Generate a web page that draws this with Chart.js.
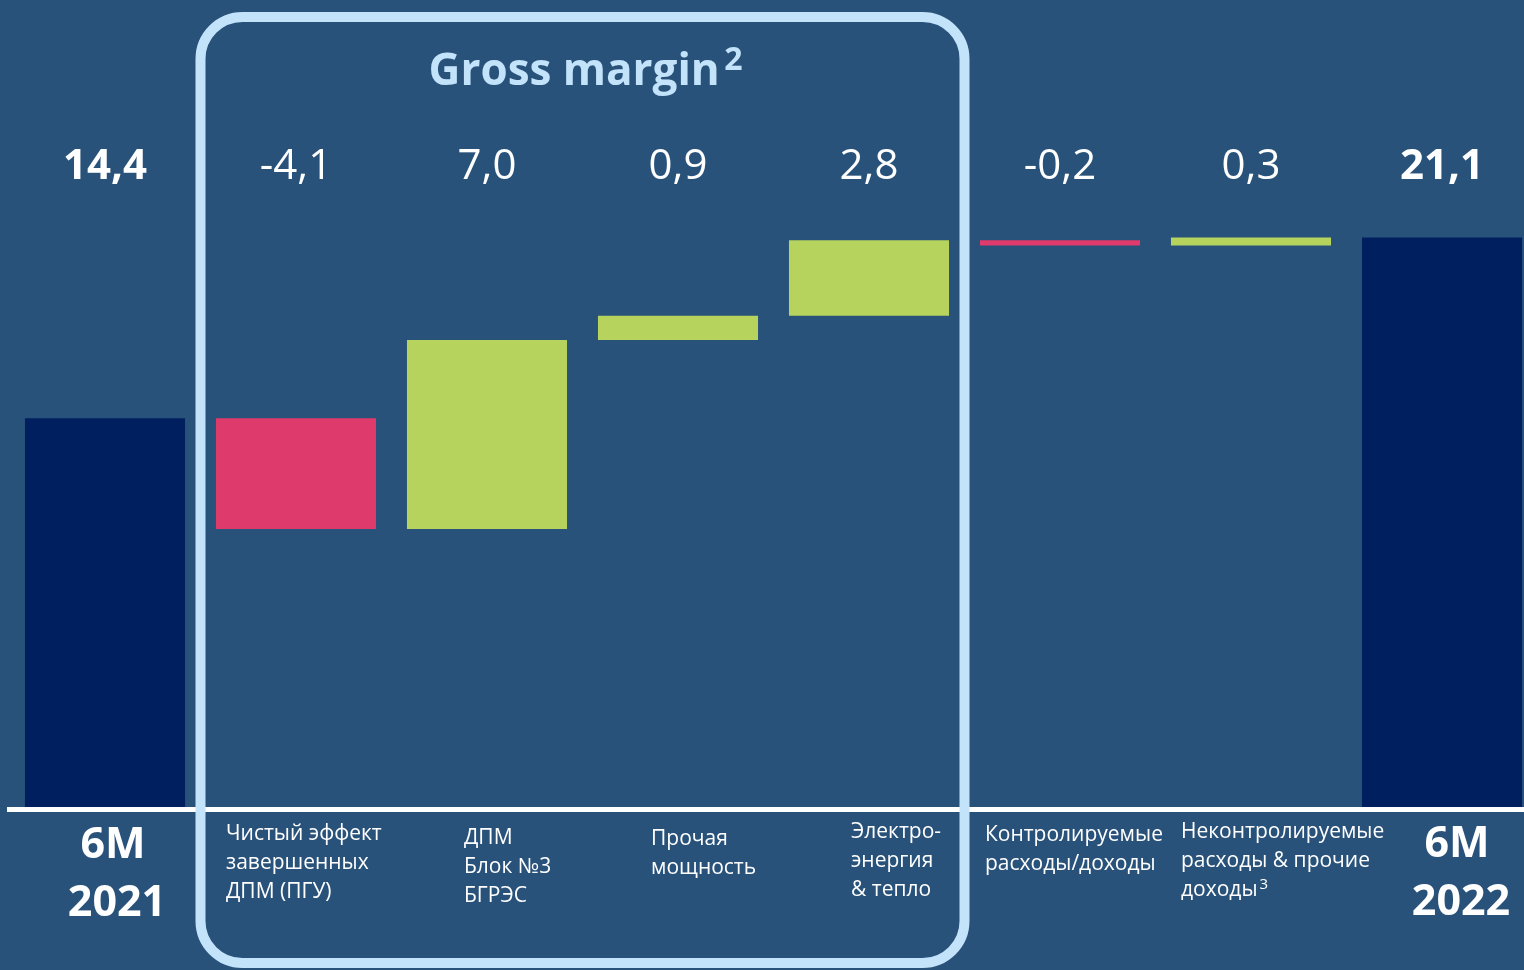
<!DOCTYPE html>
<html>
<head>
<meta charset="utf-8">
<script src="https://cdn.jsdelivr.net/npm/chart.js@4/dist/chart.umd.min.js"></script>
<style>
  html, body { margin: 0; padding: 0; background: #29527a; overflow: hidden; }
  #wrap { position: absolute; left: 0; top: 0; width: 1540px; height: 970px; }
</style>
</head>
<body>
<div id="wrap"><canvas id="myChart" width="1540" height="970"></canvas></div>
<script>
const categories = [
  ['6M', '2021'],
  ['Чистый эффект', 'завершенных', 'ДПМ (ПГУ)'],
  ['ДПМ', 'Блок №3', 'БГРЭС'],
  ['Прочая', 'мощность'],
  ['Электро-', 'энергия', '& тепло'],
  ['Контролируемые', 'расходы/доходы'],
  ['Неконтролируемые', 'расходы & прочие', 'доходы³'],
  ['6M', '2022']
];
const changes = [14.4, -4.1, 7.0, 0.9, 2.8, -0.2, 0.3, 21.1];
const barKinds = ['total', 'step', 'step', 'step', 'step', 'step', 'step', 'total'];
const groupTitle = 'Gross margin²';
const groupRange = [1, 4]; // first and last category inside the frame

// styling
const NAVY = '#001f5f', PINK = '#de3a6c', GREEN = '#b5d35d';
const FRAME = '#c3e3fb', FONT = "'Open Sans', 'Noto Sans', sans-serif";
// label offsets from bar centre (x) and first-line y
const labelDx = [8, -70, -23, -27, -18, -75, -70, 15];
const labelY = [846, 834, 838, 839, 832, 835, 832, 845];

// waterfall: floating bars from running total
let run = 0;
const floating = changes.map((v, i) => {
  if (barKinds[i] === 'total') { run = v; return [0, v]; }
  const start = run;
  run = Math.round((run + v) * 10) / 10;
  return [start, run];
});
const colors = changes.map((v, i) => barKinds[i] === 'total' ? NAVY : (v < 0 ? PINK : GREEN));
const fmt = v => v.toFixed(1).replace('.', ',');

// draws text, turning trailing ²/³ into a raised smaller digit
function drawSup(ctx, text, x, y, size, weight, align) {
  const m = text.match(/^(.*?)([²³]*)$/);
  const main = m[1];
  const sup = m[2].replace('²', '2').replace('³', '3');
  const supSize = Math.round(size * 0.72);
  ctx.font = weight + ' ' + size + 'px ' + FONT;
  const wMain = ctx.measureText(main).width;
  ctx.font = weight + ' ' + supSize + 'px ' + FONT;
  const gap = sup ? size * 0.1 : 0;
  const wSup = sup ? ctx.measureText(sup).width : 0;
  let left = x;
  if (align === 'center') left = x - (wMain + gap + wSup) / 2;
  ctx.textAlign = 'left';
  ctx.textBaseline = 'middle';
  ctx.font = weight + ' ' + size + 'px ' + FONT;
  ctx.fillText(main, left, y);
  if (sup) {
    ctx.font = weight + ' ' + supSize + 'px ' + FONT;
    ctx.fillText(sup, left + wMain + gap, y - size * 0.26);
  }
}

const overlay = {
  id: 'overlay',
  afterDraw(chart) {
    const ctx = chart.ctx;
    const xs = chart.scales.x, ys = chart.scales.y;
    const base = ys.getPixelForValue(0);
    const catW = chart.chartArea.width / categories.length;
    ctx.save();

    // white baseline
    ctx.fillStyle = '#ffffff';
    ctx.fillRect(7, base, 1524 - 7, 5);

    // value labels
    ctx.fillStyle = '#ffffff';
    changes.forEach((v, i) => {
      const bold = barKinds[i] === 'total' ? 'bold' : 'normal';
      drawSup(ctx, fmt(v), xs.getPixelForValue(i), 167, 42, bold, 'center');
    });

    // category labels
    categories.forEach((lines, i) => {
      const cx = xs.getPixelForValue(i) + labelDx[i];
      if (barKinds[i] === 'total') {
        lines.forEach((t, k) => drawSup(ctx, t, cx + k * 4, labelY[i] + k * 58, 43, 'bold', 'center'));
      } else {
        lines.forEach((t, k) => drawSup(ctx, t, cx, labelY[i] + k * 29, 21, 'normal', 'left'));
      }
    });

    // group frame
    const fx0 = xs.getPixelForValue(groupRange[0]) - catW / 2;
    const fx1 = xs.getPixelForValue(groupRange[1]) + catW / 2;
    ctx.strokeStyle = FRAME;
    ctx.lineWidth = 10;
    ctx.beginPath();
    ctx.roundRect(fx0, 17, fx1 - fx0, 946, 42);
    ctx.stroke();

    ctx.fillStyle = FRAME;
    drawSup(ctx, groupTitle, (fx0 + fx1) / 2 + 3, 72, 44, 'bold', 'center');
    ctx.restore();
  }
};

new Chart(document.getElementById('myChart').getContext('2d'), {
  type: 'bar',
  data: {
    labels: categories,
    datasets: [{
      data: floating,
      backgroundColor: colors,
      borderWidth: 0,
      borderSkipped: false,
      categoryPercentage: 1,
      barPercentage: 0.838
    }]
  },
  options: {
    responsive: false,
    animation: false,
    layout: { padding: { left: 9.5, right: 2.5, top: 0, bottom: 163 } },
    plugins: { legend: { display: false }, tooltip: { enabled: false } },
    scales: {
      x: { display: false },
      y: { display: false, min: 0, max: 29.9 }
    }
  },
  plugins: [overlay]
});
</script>
</body>
</html>
